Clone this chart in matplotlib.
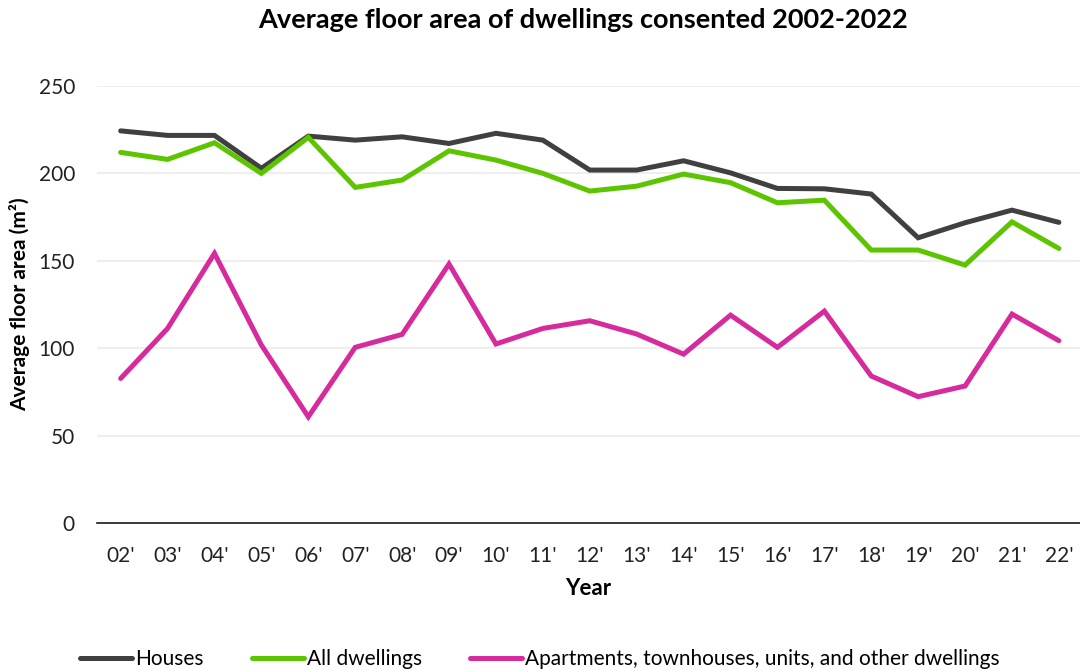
import matplotlib

matplotlib.use("Agg")
import matplotlib.pyplot as plt
import numpy as np

plt.rcParams["font.family"] = ["Lato", "DejaVu Sans"]

years = ["02'", "03'", "04'", "05'", "06'", "07'", "08'", "09'", "10'", "11'",
         "12'", "13'", "14'", "15'", "16'", "17'", "18'", "19'", "20'", "21'", "22'"]

houses = [224.3, 221.7, 221.7, 202.9, 221.3, 219.0, 220.9, 217.1, 222.9, 219.0,
          201.9, 201.9, 207.2, 200.3, 191.4, 191.2, 188.2, 163.2, 171.8, 179.0, 172.0]
all_dwellings = [212.0, 208.0, 217.5, 200.0, 220.6, 192.0, 196.2, 212.9, 207.6, 200.0,
                 189.9, 192.7, 199.6, 194.7, 183.2, 184.7, 156.2, 156.2, 147.6, 172.3, 157.1]
apartments = [82.8, 111.4, 154.3, 101.9, 60.9, 100.6, 108.0, 148.2, 102.5, 111.4,
              115.8, 108.2, 96.7, 119.0, 100.6, 121.3, 84.2, 72.4, 78.5, 119.6, 104.4]

series = [
    ("Houses", houses, "#404040"),
    ("All dwellings", all_dwellings, "#5CC500"),
    ("Apartments, townhouses, units, and other dwellings", apartments, "#D62B9C"),
]

fig = plt.figure(figsize=(10.8, 6.71), dpi=100)
ax = fig.add_axes([0.09, 0.22, 0.91, 0.652])

x = np.arange(len(years))
for label, values, color in series:
    ax.plot(x, values, color=color, linewidth=3.6, solid_capstyle="round",
            solid_joinstyle="miter", label=label)

ax.set_xlim(-0.5, 20.45)
ax.set_ylim(0, 250)
ax.set_yticks(np.arange(0, 251, 50))
ax.set_xticks(x)
ax.set_xticklabels(years)
ax.yaxis.grid(True, color="#EBEBEB", linewidth=1.2)
ax.set_axisbelow(True)

for side in ("top", "right", "left"):
    ax.spines[side].set_visible(False)
ax.spines["bottom"].set_color("#1A1A1A")
ax.spines["bottom"].set_linewidth(1.2)
ax.tick_params(axis="both", length=0, labelsize=15, colors="#222222")
ax.tick_params(axis="x", pad=16)
ax.tick_params(axis="y", pad=16)

ax.set_xlabel("Year", fontsize=16, fontweight="bold", labelpad=9)
ax.set_ylabel("Average floor area (m²)", fontsize=15, fontweight="bold", labelpad=6)

fig.suptitle("Average floor area of dwellings consented 2002-2022",
             x=0.54, y=0.988, fontsize=19.5, fontweight="bold")

fig.legend(loc="center", bbox_to_anchor=(0.5, 0.018), ncol=3, frameon=False,
           fontsize=15, handlelength=2.5, handletextpad=0.15, columnspacing=2.3)

fig.savefig("out.png", dpi=100)
